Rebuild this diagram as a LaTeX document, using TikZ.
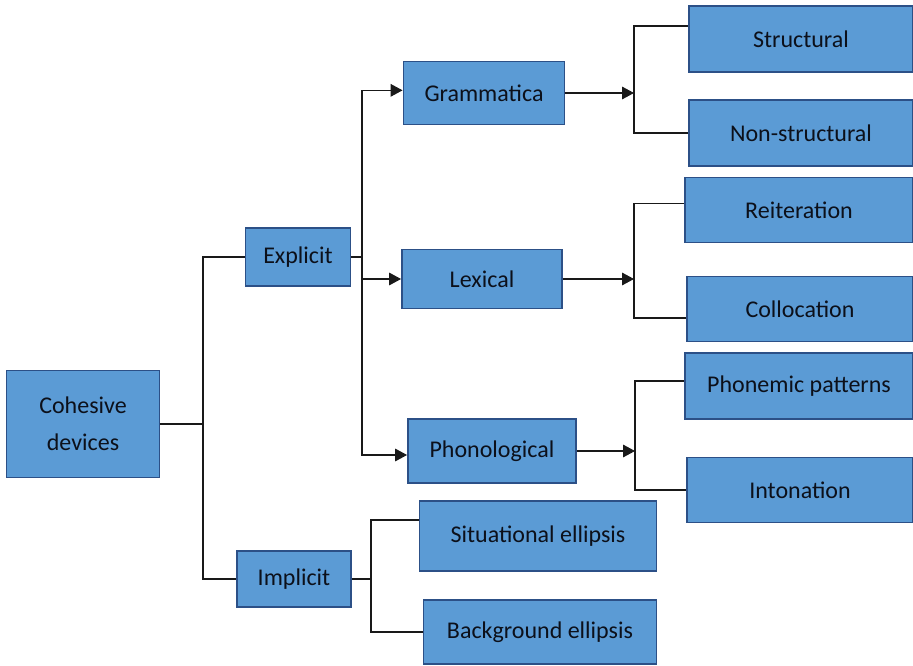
\documentclass[tikz,border=0pt]{standalone}
\usepackage{fontspec}
\setmainfont{Carlito}
\usepackage{xcolor}
\usepackage{tikz}
\usetikzlibrary{arrows.meta, positioning, calc}
\definecolor{BoxBlue}{RGB}{91, 155, 213}
\definecolor{BoxEdge}{RGB}{44, 80, 135}
\definecolor{InkDark}{RGB}{12, 16, 26}
\definecolor{WireGray}{RGB}{25, 25, 25}
\tikzset{
  cbox/.style={rectangle, draw=BoxEdge, line width=1.4pt, fill=BoxBlue,
    text=InkDark, align=center, inner sep=2pt,
    font=\fontsize{18}{28}\selectfont},
  wire/.style={draw=WireGray, line width=0.8pt},
  arr/.style={wire, -{Triangle[length=9pt, width=9.5pt]}},
}
\begin{document}
\begin{tikzpicture}[x=0.75pt, y=-0.75pt]
  \useasboundingbox (0,0) rectangle (913,666);
  % boxes
  \node[cbox, minimum width=114.75pt, minimum height=80.25pt] (coh) at (83,424) {Cohesive\\devices};
  \node[cbox, minimum width=78.75pt, minimum height=43.5pt] (exp) at (298,257) {Explicit};
  \node[cbox, minimum width=85.5pt, minimum height=42pt] (imp) at (294,579) {Implicit};
  \node[cbox, minimum width=120.75pt, minimum height=47.25pt] (gram) at (484,93) {Grammatica};
  \node[cbox, minimum width=120pt, minimum height=44.25pt] (lex) at (482,279) {Lexical};
  \node[cbox, minimum width=126pt, minimum height=48pt] (phon) at (492,451) {Phonological};
  \node[cbox, minimum width=168pt, minimum height=49.5pt] (str) at (801,39) {Structural};
  \node[cbox, minimum width=168pt, minimum height=49.5pt] (nstr) at (801,133) {Non-structural};
  \node[cbox, minimum width=171pt, minimum height=48.75pt] (reit) at (799,210) {Reiteration};
  \node[cbox, minimum width=169.5pt, minimum height=48.75pt] (coll) at (800,309) {Collocation};
  \node[cbox, minimum width=171pt, minimum height=49.5pt] (phnm) at (799,386) {Phonemic patterns};
  \node[cbox, minimum width=169.5pt, minimum height=48.75pt] (inton) at (800,490) {Intonation};
  \node[cbox, minimum width=177.75pt, minimum height=52.5pt] (sit) at (538,536) {Situational ellipsis};
  \node[cbox, minimum width=174.75pt, minimum height=48pt] (back) at (540,632) {Background ellipsis};
  % junctions
  \coordinate (jcoh) at (203,424);
  \coordinate (jexp) at (362,257);
  \coordinate (jimp) at (371,579);
  \coordinate (jgram) at (634,93);
  \coordinate (jlex) at (634,279);
  \coordinate (jphon) at (635,451);
  % connectors
  \draw[wire] (coh.east) -- (jcoh);
  \draw[wire] (exp.west) -| (jcoh) |- (imp.west);
  \draw[wire] (exp.east) -- (jexp);
  \draw[arr] (jexp) |- ([yshift=2pt]gram.west);
  \draw[arr] (jexp) |- (lex.west);
  \draw[arr] (jexp) |- ([yshift=-3pt]phon.west);
  \draw[wire] (imp.east) -- (jimp);
  \draw[wire] ([yshift=12pt]sit.west) -| (jimp) |- (back.west);
  \draw[arr] (gram.east) -- (jgram);
  \draw[wire] ([yshift=9.75pt]str.west) -| (jgram) |- (nstr.west);
  \draw[arr] (lex.east) -- (jlex);
  \draw[wire] ([yshift=5pt]reit.west) -| (jlex) |- ([yshift=-6.75pt]coll.west);
  \draw[arr] (phon.east) -- (jphon);
  \draw[wire] ([yshift=3.75pt]phnm.west) -| (jphon) |- (inton.west);
\end{tikzpicture}
\end{document}
